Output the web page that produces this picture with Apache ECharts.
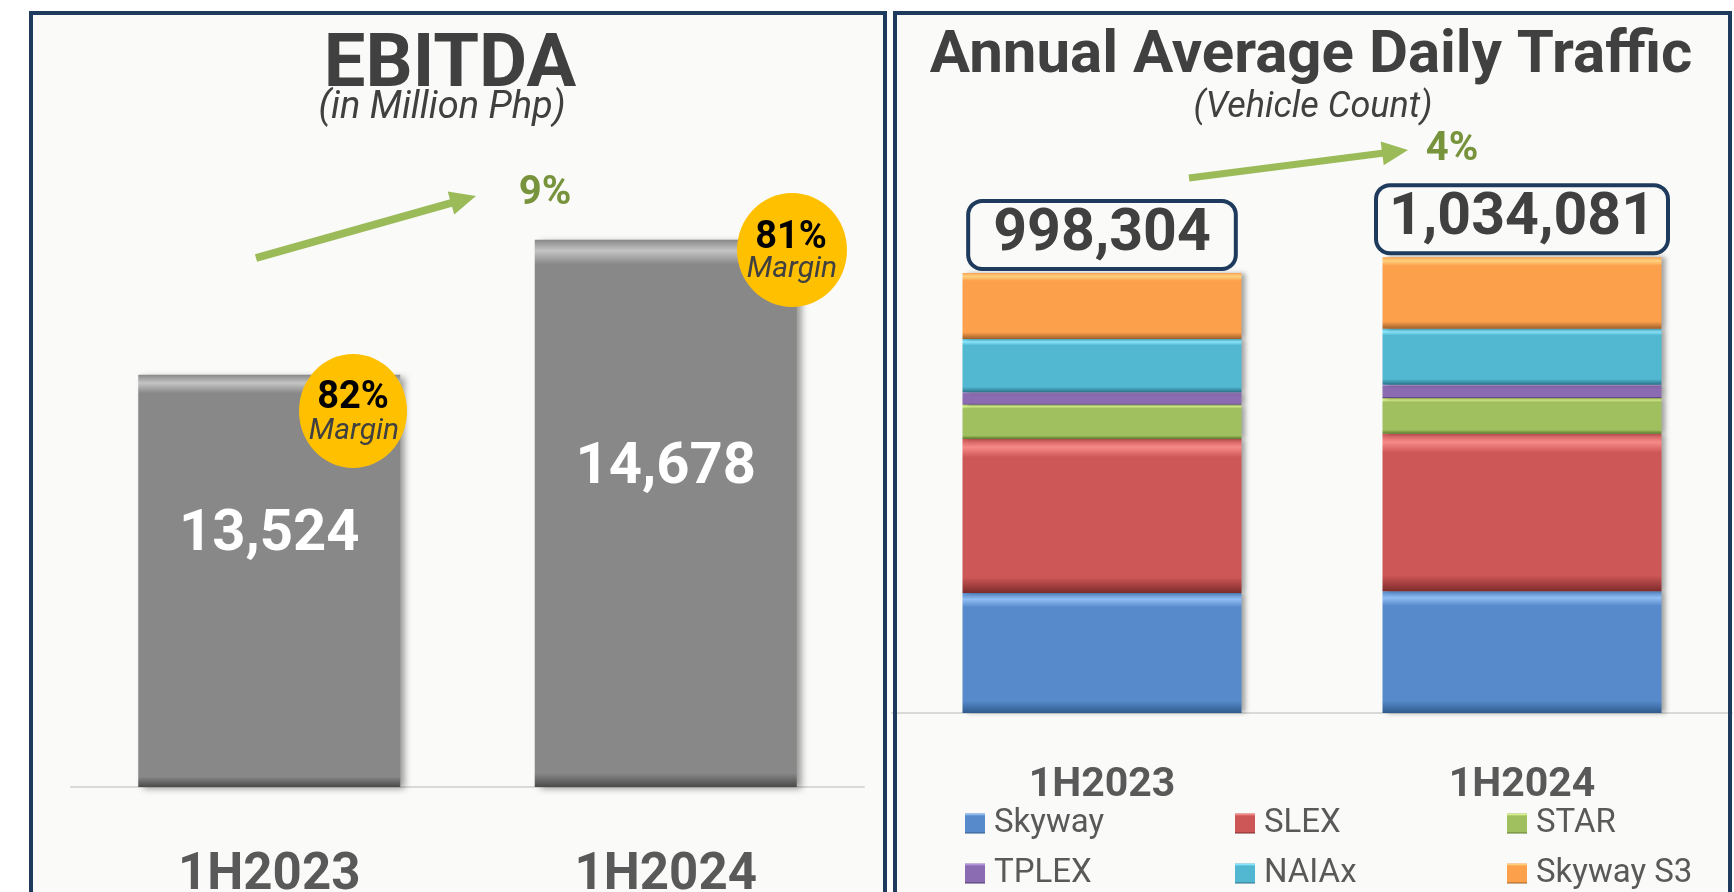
<!DOCTYPE html>
<html><head><meta charset="utf-8">
<script src="https://cdn.jsdelivr.net/npm/echarts@6/dist/echarts.min.js"></script>
<style>html,body{margin:0;padding:0;background:#fff}#c{width:1734px;height:892px}</style>
</head><body><div id="c"></div>
<script>
// ---- data ----
const categories = ['1H2023', '1H2024'];
const ebitda = [13524, 14678];
const margins = [82, 81];
const ebitdaGrowth = '9%';
const routes = ['Skyway', 'SLEX', 'STAR', 'TPLEX', 'NAIAx', 'Skyway S3'];
const skyway = [272300, 276000];
const slex = [349400, 357700];
const star = [77900, 80900];
const tplex = [28000, 30200];
const naiax = [121000, 127000];
const skywayS3 = [149704, 162281];
const trafficTotals = [998304, 1034081];
const trafficGrowth = '4%';
const ebitdaAxisRange = [10000, 16000];
const trafficAxisRange = [0, 1200000];

// ---- styles ----
const FONT = 'Roboto';
const NAVY = '#1e3a5c';
const routeColors = [
  ['#578ACB', '#8fbcf2', '#2f5a8c'],
  ['#CD5656', '#f68a88', '#7d2b2b'],
  ['#A0BF5E', '#dcf590', '#5d7a2c'],
  ['#8B6BB1', '#b496db', '#4f3970'],
  ['#52B8D2', '#8ce9ff', '#2a7187'],
  ['#FCA04C', '#ffd27f', '#a0602a']
];
const boxPadding = [23, 11];
function bevel(c, t, b) {
  return {type: 'linear', x: 0, y: 0, x2: 0, y2: 1, colorStops: [
    {offset: 0, color: c[0]}, {offset: t * 0.45, color: c[1]}, {offset: t, color: c[0]},
    {offset: 1 - b, color: c[0]}, {offset: 1, color: c[2]}]};
}
function arrow(x1, y1, x2, y2, w, hl, hw, color) {
  const dx = x2 - x1, dy = y2 - y1, L = Math.hypot(dx, dy), ux = dx / L, uy = dy / L, px = -uy, py = ux;
  const bx = x2 - ux * hl, by = y2 - uy * hl;
  return [
    {type: 'line', z: 5, shape: {x1: x1, y1: y1, x2: bx + ux * 2, y2: by + uy * 2}, style: {stroke: color, lineWidth: w}},
    {type: 'polygon', z: 5, shape: {points: [[x2, y2], [bx + px * hw, by + py * hw], [bx - px * hw, by - py * hw]]}, style: {fill: color}}
  ];
}
function txt(text, x, y, font, fill, z) {
  return {type: 'text', z: z || 6, style: {text: text, x: x, y: y, font: font, fill: fill,
    align: 'center', verticalAlign: 'middle', textAlign: 'center', textVerticalAlign: 'middle'}};
}
const fmt = v => v.toLocaleString('en-US');

const routeData = [skyway, slex, star, tplex, naiax, skywayS3];
const trafficSeries = routes.map((name, i) => {
  const s = {
    name: name, type: 'bar', stack: 'traffic', xAxisIndex: 1, yAxisIndex: 1, barWidth: 279,
    data: routeData[i].map((v, j) => (i === routes.length - 1 ? {value: v, label: {padding: [3, boxPadding[j]]}} : v)),
    itemStyle: {color: bevel(routeColors[i], 0.12, 0.1), shadowColor: 'rgba(0,0,0,0.35)', shadowBlur: 5, shadowOffsetX: 4}
  };
  if (i === routes.length - 1) {
    s.label = {show: true, position: 'top', distance: 6,
      formatter: p => fmt(trafficTotals[p.dataIndex]),
      fontFamily: FONT, fontWeight: 'bold', fontSize: 59, color: '#404040', lineHeight: 58,
      backgroundColor: '#fafaf8', borderColor: NAVY, borderWidth: 4, borderRadius: 12, padding: [3, 20]};
  }
  return s;
});

function mkLegend(names, left) {
  return {data: names, orient: 'vertical', left: left, top: 807, itemWidth: 20, itemHeight: 20, itemGap: 17,
    padding: 0, icon: 'rect', selectedMode: false,
    textStyle: {fontSize: 33, color: '#595959', fontFamily: FONT, lineHeight: 32, padding: [0, 0, 0, 4]}};
}

const graphics = [
  {type: 'rect', z: -10, shape: {x: 31, y: 13, width: 854, height: 920}, style: {fill: '#fafaf8'}},
  {type: 'rect', z: -10, shape: {x: 895, y: 13, width: 835, height: 920}, style: {fill: '#fafaf8'}},
  {type: 'rect', z: 100, shape: {x: 31, y: 13, width: 854, height: 920}, style: {fill: 'none', stroke: NAVY, lineWidth: 4}},
  {type: 'rect', z: 100, shape: {x: 895, y: 13, width: 835, height: 920}, style: {fill: 'none', stroke: NAVY, lineWidth: 4}},
  txt('EBITDA', 450, 67, 'bold 74px ' + FONT, '#404040'),
  txt('(in Million Php)', 442, 108, 'italic 38px ' + FONT, '#404040'),
  txt('Annual Average Daily Traffic', 1311, 57, 'bold 60px ' + FONT, '#404040'),
  txt('(Vehicle Count)', 1313, 108, 'italic 36px ' + FONT, '#404040'),
  ...arrow(256, 258, 476, 196, 8, 26, 12, '#9BBB59'),
  ...arrow(1189, 178, 1408, 150, 7, 26, 12, '#9BBB59'),
  txt(ebitdaGrowth, 545, 194, 'bold 40px ' + FONT, '#77933C'),
  txt(trafficGrowth, 1452, 150, 'bold 40px ' + FONT, '#77933C'),
  {type: 'ellipse', z: 20, shape: {cx: 353, cy: 411, rx: 54, ry: 57}, style: {fill: '#FFC000'}},
  {type: 'ellipse', z: 20, shape: {cx: 792, cy: 250, rx: 55, ry: 57}, style: {fill: '#FFC000'}},
  txt(margins[0] + '%', 353, 398, 'bold 38px ' + FONT, '#000000', 21),
  txt('Margin', 354, 431, 'italic 30px ' + FONT, '#404040', 21),
  txt(margins[1] + '%', 791, 238, 'bold 38px ' + FONT, '#000000', 21),
  txt('Margin', 792, 269, 'italic 30px ' + FONT, '#404040', 21)
];

const chart = echarts.init(document.getElementById('c'), null, {renderer: 'canvas'});
chart.setOption({
  animation: false,
  backgroundColor: '#ffffff',
  textStyle: {fontFamily: FONT},
  grid: [
    {left: 71, width: 793, top: 85, height: 702, containLabel: false, outerBoundsMode: 'none'},
    {left: 892, width: 840, top: 184, height: 529, containLabel: false, outerBoundsMode: 'none'}
  ],
  xAxis: [
    {type: 'category', gridIndex: 0, data: categories, axisTick: {show: false},
      axisLine: {lineStyle: {color: '#d9d9d9', width: 2}},
      axisLabel: {fontSize: 51, fontWeight: 'bold', color: '#595959', margin: 64, fontFamily: FONT}},
    {type: 'category', gridIndex: 1, data: categories, axisTick: {show: false},
      axisLine: {lineStyle: {color: '#d9d9d9', width: 2}},
      axisLabel: {fontSize: 41, fontWeight: 'bold', color: '#595959', margin: 52, fontFamily: FONT}}
  ],
  yAxis: [
    {type: 'value', gridIndex: 0, min: ebitdaAxisRange[0], max: ebitdaAxisRange[1], show: false, splitLine: {show: false}},
    {type: 'value', gridIndex: 1, min: trafficAxisRange[0], max: trafficAxisRange[1], show: false, splitLine: {show: false}}
  ],
  legend: [
    mkLegend([routes[0], routes[3]], 965),
    mkLegend([routes[1], routes[4]], 1235),
    mkLegend([routes[2], routes[5]], 1507)
  ],
  series: [
    {name: 'EBITDA', type: 'bar', xAxisIndex: 0, yAxisIndex: 0, barWidth: 262, data: ebitda,
      itemStyle: {color: bevel(['#888888', '#c4c4c4', '#4a4a4a'], 0.045, 0.025),
        shadowColor: 'rgba(0,0,0,0.4)', shadowBlur: 7, shadowOffsetX: 5, shadowOffsetY: 2},
      label: {show: true, position: 'inside', offset: [0, -45], formatter: p => fmt(p.value),
        fontFamily: FONT, fontWeight: 'bold', fontSize: 58, color: '#ffffff'}},
    ...trafficSeries
  ],
  graphic: {elements: graphics}
});
</script></body></html>
